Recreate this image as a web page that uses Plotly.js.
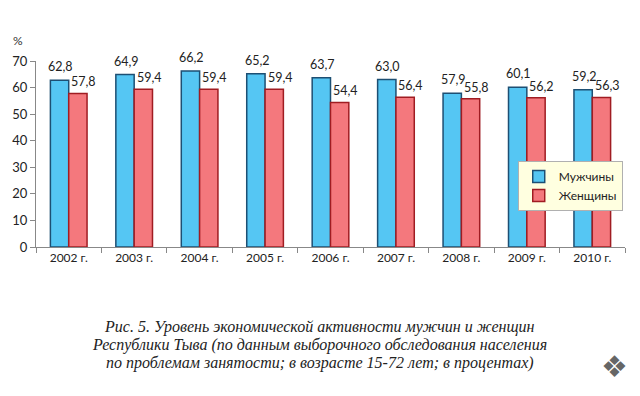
<!DOCTYPE html>
<html><head><meta charset="utf-8">
<script src="https://cdn.plot.ly/plotly-3.0.1.min.js"></script>
<style>html,body{margin:0;padding:0;background:#fff;}#chart{width:640px;height:396px;}</style>
</head><body><div id="chart"></div>
<script>
const years = ['2002 г.','2003 г.','2004 г.','2005 г.','2006 г.','2007 г.','2008 г.','2009 г.','2010 г.'];
const men = [62.8, 64.9, 66.2, 65.2, 63.7, 63.0, 57.9, 60.1, 59.2];
const women = [57.8, 59.4, 59.4, 59.4, 54.4, 56.4, 55.8, 56.2, 56.3];
const seriesNames = ['Мужчины', 'Женщины'];
const yTicks = [0,10,20,30,40,50,60,70];
const caption = ['Рис. 5. Уровень экономической активности мужчин и женщин',
  'Республики Тыва (по данным выборочного обследования населения',
  'по проблемам занятости; в возрасте 15-72 лет; в процентах)'];

const font = 'Lato, "Open Sans", sans-serif';
const fmt = v => v.toFixed(1).replace('.', ',');
const traces = [
  {type:'bar', x: years, y: men, name: seriesNames[0],
   marker:{color:'#55c6f3', line:{color:'#1d4f73', width:1.5}}},
  {type:'bar', x: years, y: women, name: seriesNames[1],
   marker:{color:'#f4787d', line:{color:'#a01c22', width:1.5}}}
];
const annotations = [];
years.forEach((yr, i) => {
  annotations.push({xref:'x', yref:'y', x: yr, y: men[i], text: fmt(men[i]), showarrow:false,
    xanchor:'center', yanchor:'bottom', xshift:-8, yshift:4,
    font:{family:font, size:12.5, color:'#222'}});
  annotations.push({xref:'x', yref:'y', x: yr, y: women[i], text: fmt(women[i]), showarrow:false,
    xanchor:'center', yanchor:'bottom', xshift:15, yshift:2,
    font:{family:font, size:12.5, color:'#222'}});
});
caption.forEach((t,i)=>annotations.push({
  xref:'paper', yref:'paper', x:0.482, y:-0.43 - i*0.0965, xanchor:'center', yanchor:'middle',
  text:'<i>'+t+'</i>', showarrow:false,
  font:{family:'"Liberation Serif", "DejaVu Serif", serif', size:16, color:'#222'}
}));
annotations.push({xref:'paper', yref:'paper', x:-0.031, y:1.108, xanchor:'center', yanchor:'middle',
  text:'%', showarrow:false, font:{family:font, size:12, color:'#333'}});
annotations.push({xref:'paper', yref:'paper', x:0.983, y:-0.645, xanchor:'center', yanchor:'middle',
  text:'❖', showarrow:false, font:{family:'"DejaVu Sans", sans-serif', size:30, color:'#666'}});

const layout = {
  width:640, height:396,
  margin:{l:36, r:15, t:61, b:149},
  paper_bgcolor:'#fff', plot_bgcolor:'#fff',
  barmode:'group', bargap:0.44, bargroupgap:0,
  showlegend:true,
  legend:{x:0.907, y:0.462, xanchor:'center', yanchor:'top', bgcolor:'#ffffe0',
    bordercolor:'#b0b0b0', borderwidth:1, font:{family:font, size:12, color:'#222'},
    itemwidth:30, tracegroupgap:0},
  xaxis:{showline:true, linecolor:'#888', linewidth:1, ticks:'outside', tickson:'boundaries',
    ticklen:5, tickcolor:'#888', tickfont:{family:font, size:12, color:'#222'}, showgrid:false},
  yaxis:{range:[0,70], tickvals:yTicks, showline:true, linecolor:'#888', linewidth:1,
    ticks:'outside', ticklen:5, tickcolor:'#888', showgrid:false, zeroline:false,
    tickfont:{family:font, size:13, color:'#222'}},
  annotations: annotations
};
Plotly.newPlot('chart', traces, layout, {staticPlot:true});
</script></body></html>
